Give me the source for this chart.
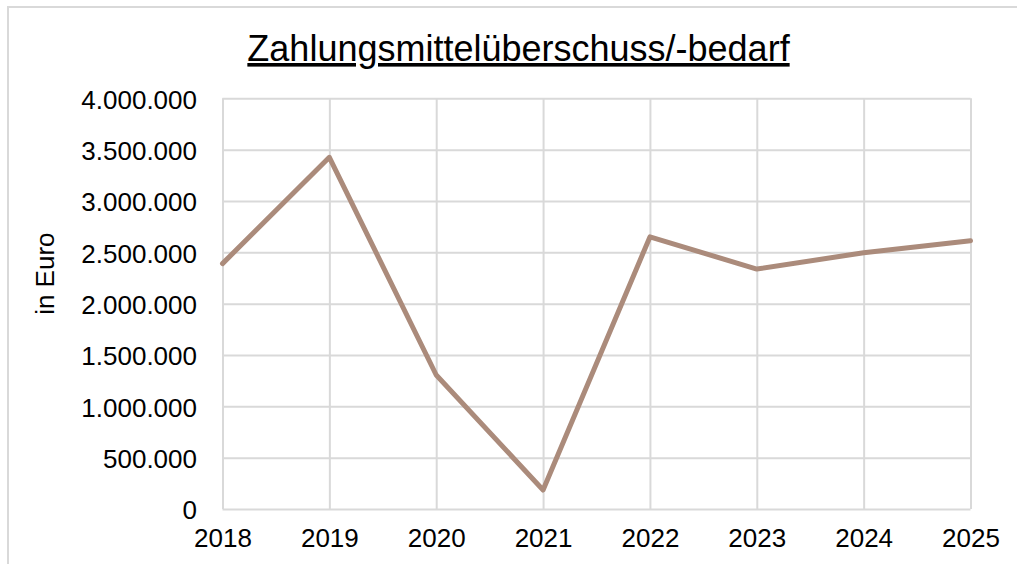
<!DOCTYPE html>
<html>
<head>
<meta charset="utf-8">
<script src="https://cdn.jsdelivr.net/npm/d3@7"></script>
<style>
  body { margin: 0; background: #fff; }
  text { font-family: "Liberation Sans", Arial, sans-serif; fill: #000; }
</style>
</head>
<body>
<div id="wrapper"></div>
<script>
const years = ["2018", "2019", "2020", "2021", "2022", "2023", "2024", "2025"];
const values = [2390000, 3425000, 1305000, 185000, 2650000, 2337000, 2496000, 2613000];
const yTicks = [0, 500000, 1000000, 1500000, 2000000, 2500000, 3000000, 3500000, 4000000];

function drawChart() {
  const dimensions = {
    width: 1017,
    height: 564,
    left: 222.5,
    right: 970.5,
    top: 98.3,
    bottom: 509,
  };

  const svg = d3
    .select("#wrapper")
    .append("svg")
    .attr("width", dimensions.width)
    .attr("height", dimensions.height);

  // chart frame (cut off on the right and bottom)
  svg
    .append("rect")
    .attr("x", 8)
    .attr("y", 7)
    .attr("width", 1100)
    .attr("height", 700)
    .attr("fill", "none")
    .attr("stroke", "#d9d9d9")
    .attr("stroke-width", 2);

  const x = d3
    .scalePoint()
    .domain(years)
    .range([dimensions.left, dimensions.right]);

  const y = d3
    .scaleLinear()
    .domain([0, 4000000])
    .range([dimensions.bottom, dimensions.top]);

  const de = d3.formatLocale({
    decimal: ",",
    thousands: ".",
    grouping: [3],
    currency: ["", " €"],
  });
  const fmt = de.format(",d");

  // horizontal gridlines + labels
  const yAxis = d3
    .axisLeft(y)
    .tickValues(yTicks)
    .tickSize(-(dimensions.right - dimensions.left))
    .tickPadding(25.5)
    .tickFormat(fmt);

  svg
    .append("g")
    .attr("transform", `translate(${dimensions.left},0)`)
    .call(yAxis)
    .call((g) => g.select(".domain").remove())
    .call((g) =>
      g.selectAll(".tick line").attr("stroke", "#d9d9d9").attr("stroke-width", 2)
    )
    .call((g) =>
      g
        .selectAll(".tick text")
        .attr("font-size", 26)
        .attr("font-family", '"Liberation Sans", Arial, sans-serif')
        .attr("fill", "#000")
        .attr("dy", "0.38em")
    );

  // vertical gridlines + year labels
  const xAxis = d3
    .axisBottom(x)
    .tickSize(-(dimensions.bottom - dimensions.top))
    .tickPadding(20);

  svg
    .append("g")
    .attr("transform", `translate(0,${dimensions.bottom})`)
    .call(xAxis)
    .call((g) => g.select(".domain").remove())
    .call((g) =>
      g.selectAll(".tick line").attr("stroke", "#d9d9d9").attr("stroke-width", 2)
    )
    .call((g) =>
      g
        .selectAll(".tick text")
        .attr("font-size", 26)
        .attr("font-family", '"Liberation Sans", Arial, sans-serif')
        .attr("fill", "#000")
    );

  const line = d3
    .line()
    .x((d, i) => x(years[i]))
    .y((d) => y(d));

  svg
    .append("path")
    .datum(values)
    .attr("d", line)
    .attr("fill", "none")
    .attr("stroke", "#ab8b7b")
    .attr("stroke-width", 5)
    .attr("stroke-linejoin", "round")
    .attr("stroke-linecap", "round");

  svg
    .append("text")
    .attr("x", 518.5)
    .attr("y", 61)
    .attr("text-anchor", "middle")
    .attr("font-size", 36)
    .attr("text-decoration", "underline")
    .text("Zahlungsmittelüberschuss/-bedarf");

  svg
    .append("text")
    .attr("transform", `translate(54,${(dimensions.top + dimensions.bottom) / 2 - 30}) rotate(-90)`)
    .attr("text-anchor", "middle")
    .attr("font-size", 26)
    .text("in Euro");
}

drawChart();
</script>
</body>
</html>
